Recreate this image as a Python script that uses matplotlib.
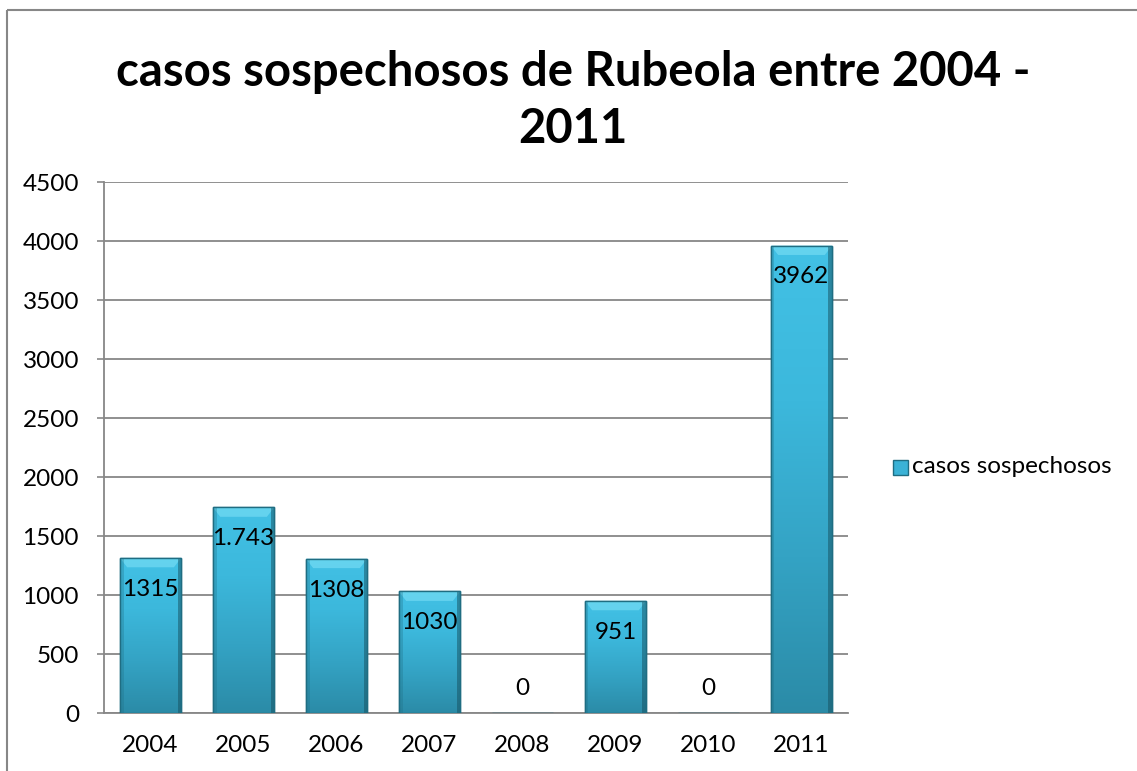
import numpy as np
import matplotlib
matplotlib.use("Agg")
import matplotlib.pyplot as plt
from matplotlib.colors import LinearSegmentedColormap
from matplotlib.patches import Rectangle, Polygon
from matplotlib.lines import Line2D

plt.rcParams["font.family"] = ["Lato", "DejaVu Sans"]

years = ["2004", "2005", "2006", "2007", "2008", "2009", "2010", "2011"]
cases = [1315, 1743, 1308, 1030, 0, 951, 0, 3962]
labels = ["1315", "1.743", "1308", "1030", "0", "951", "0", "3962"]
series_name = "casos sospechosos"
title = "casos sospechosos de Rubeola entre 2004 -\n2011"

grid_col = "#878787"
fs = 17.5
bar_cmap = LinearSegmentedColormap.from_list(
    "bevel", ["#2b8ba7", "#34a3c4", "#3cb8dc", "#42c1e5"])

fig = plt.figure(figsize=(11.37, 7.71), dpi=100)
ax = fig.add_axes([0.0915, 0.0752, 0.6543, 0.6887])

x = np.arange(len(years))
bars = ax.bar(x, cases, width=0.66, color="#3ab2d6", edgecolor="#1f6d82",
              linewidth=1.0, zorder=3)

# vertical gradient inside each bar, darker towards the base
grad = np.linspace(0, 1, 256).reshape(-1, 1)
for b in bars:
    h = b.get_height()
    if h <= 0:
        continue
    x0, w = b.get_x(), b.get_width()
    im = ax.imshow(grad, cmap=bar_cmap, origin="lower", aspect="auto",
                   extent=(x0, x0 + w, 0, h), zorder=3.5)
    im.set_clip_path(b)
    # bevel: light trapezoid on top, dark rims on the sides
    bh = 80
    bx = w * 0.12
    ax.add_patch(Polygon([(x0, h), (x0 + w, h), (x0 + w - bx, h - bh), (x0 + bx, h - bh)],
                         closed=True, facecolor="#7de0f6", alpha=0.6, lw=0, zorder=3.6))
    ax.add_patch(Rectangle((x0, 0), w * 0.06, h, facecolor="#1f6d82",
                           alpha=0.3, lw=0, zorder=3.6))
    ax.add_patch(Rectangle((x0 + w * 0.94, 0), w * 0.06, h, facecolor="#16505f",
                           alpha=0.5, lw=0, zorder=3.6))
    ax.add_patch(Rectangle((x0, 0), w, h, facecolor="none",
                           edgecolor="#1f6d82", lw=1.0, zorder=3.7))

for xi, v, lab in zip(x, cases, labels):
    if v > 0:
        ax.annotate(lab, (xi, v), xytext=(0, -15), textcoords="offset points",
                    ha="center", va="top", fontsize=fs, color="black", zorder=5)
    else:
        ax.annotate(lab, (xi, v), xytext=(0, 10), textcoords="offset points",
                    ha="center", va="bottom", fontsize=fs, color="black", zorder=5)

ax.set_xlim(-0.5, len(years) - 0.5)
ax.set_ylim(0, 4500)
ax.set_yticks(np.arange(0, 4501, 500))
ax.set_xticks(x)
ax.set_xticklabels(years)
ax.tick_params(axis="y", length=5, width=1.2, color=grid_col, pad=13, labelsize=fs)
ax.tick_params(axis="x", length=0, pad=16, labelsize=fs)
ax.grid(axis="y", color=grid_col, linewidth=1.3, zorder=1)
ax.set_axisbelow(True)
for side in ["top", "right"]:
    ax.spines[side].set_visible(False)
for side in ["left", "bottom"]:
    ax.spines[side].set_color(grid_col)
    ax.spines[side].set_linewidth(1.3)

fig.text(0.504, 0.870, title, ha="center", va="center", fontsize=34,
         fontweight="bold", linespacing=1.35)

# legend entry to the right of the plot
fig.patches.append(Rectangle((893 / 1137, 1 - 475 / 771), 15 / 1137, 15 / 771,
                             transform=fig.transFigure, facecolor="#3ab2d6",
                             edgecolor="#1f6d82", lw=1.0))
fig.text(912 / 1137, 1 - 467 / 771, series_name, ha="left", va="center",
         fontsize=fs)

# chart frame (open at right and bottom)
fig.add_artist(Line2D([7 / 1137, 1.01], [1 - 10 / 771, 1 - 10 / 771],
                      transform=fig.transFigure, color=grid_col, lw=1.5,
                      solid_capstyle="butt"))
fig.add_artist(Line2D([7 / 1137, 7 / 1137], [-0.01, 1 - 10 / 771],
                      transform=fig.transFigure, color=grid_col, lw=1.5,
                      solid_capstyle="butt"))

fig.savefig("out.png", dpi=100, facecolor="white")
